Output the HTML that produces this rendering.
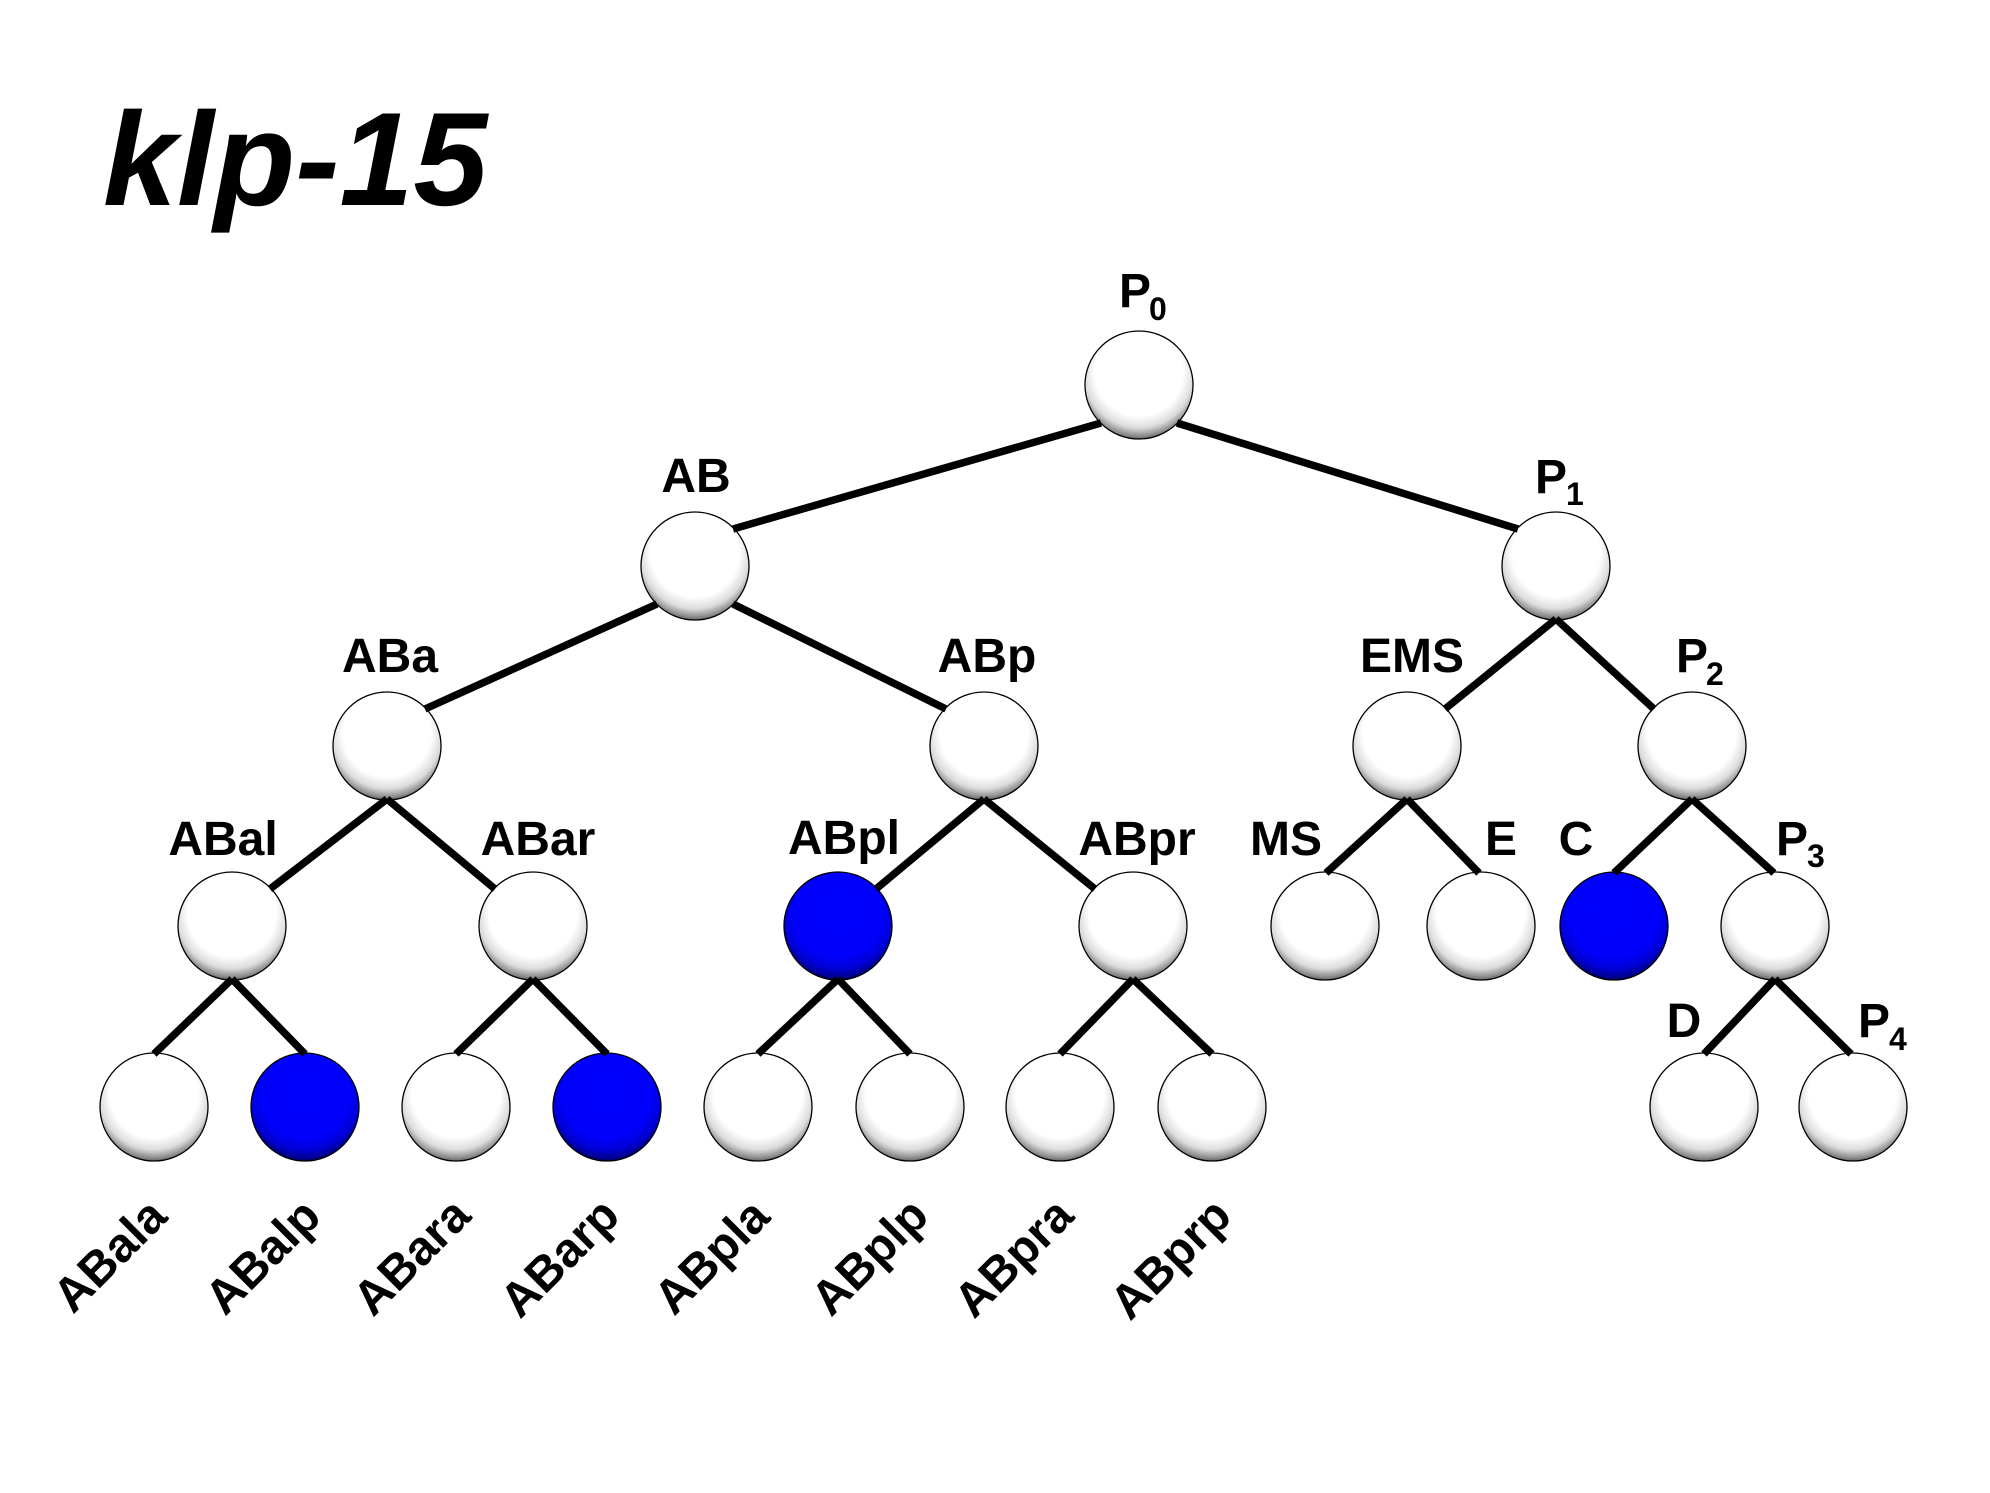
<!DOCTYPE html>
<html>
<head>
<meta charset="utf-8">
<style>
  html, body { margin: 0; padding: 0; background: #ffffff; }
  body { width: 1990px; height: 1493px; overflow: hidden; }
  svg { display: block; }
  text { font-family: "Liberation Sans", Arial, sans-serif; font-weight: bold; fill: #000; }
</style>
</head>
<body>
<svg width="1990" height="1493" viewBox="0 0 1990 1493" xmlns="http://www.w3.org/2000/svg">
  <defs>
    <radialGradient id="gw" cx="50%" cy="40%" r="62%" fx="50%" fy="33%">
      <stop offset="0" stop-color="#ffffff"/>
      <stop offset="0.66" stop-color="#ffffff"/>
      <stop offset="0.82" stop-color="#dcdcdc"/>
      <stop offset="0.93" stop-color="#8c8c8c"/>
      <stop offset="1" stop-color="#4a4a4a"/>
    </radialGradient>
    <radialGradient id="gb" cx="50%" cy="40%" r="62%" fx="50%" fy="33%">
      <stop offset="0" stop-color="#0000ff"/>
      <stop offset="0.66" stop-color="#0000fc"/>
      <stop offset="0.82" stop-color="#0000d8"/>
      <stop offset="0.93" stop-color="#000090"/>
      <stop offset="1" stop-color="#000050"/>
    </radialGradient>
  </defs>

  <rect x="0" y="0" width="1990" height="1493" fill="#ffffff"/>

  <!-- Title -->
  <text x="103" y="205" font-size="133" font-style="italic">klp-15</text>

  <!-- Circles -->
  <g stroke="#000" stroke-width="1.3">
    <circle cx="1139" cy="385" r="54" fill="url(#gw)"/>
    <circle cx="695" cy="566" r="54" fill="url(#gw)"/>
    <circle cx="1556" cy="566" r="54" fill="url(#gw)"/>
    <circle cx="387" cy="746" r="54" fill="url(#gw)"/>
    <circle cx="984" cy="746" r="54" fill="url(#gw)"/>
    <circle cx="1407" cy="746" r="54" fill="url(#gw)"/>
    <circle cx="1692" cy="746" r="54" fill="url(#gw)"/>
    <circle cx="232" cy="926" r="54" fill="url(#gw)"/>
    <circle cx="533" cy="926" r="54" fill="url(#gw)"/>
    <circle cx="838" cy="926" r="54" fill="url(#gb)"/>
    <circle cx="1133" cy="926" r="54" fill="url(#gw)"/>
    <circle cx="1325" cy="926" r="54" fill="url(#gw)"/>
    <circle cx="1481" cy="926" r="54" fill="url(#gw)"/>
    <circle cx="1614" cy="926" r="54" fill="url(#gb)"/>
    <circle cx="1775" cy="926" r="54" fill="url(#gw)"/>
    <circle cx="154" cy="1107" r="54" fill="url(#gw)"/>
    <circle cx="305" cy="1107" r="54" fill="url(#gb)"/>
    <circle cx="456" cy="1107" r="54" fill="url(#gw)"/>
    <circle cx="607" cy="1107" r="54" fill="url(#gb)"/>
    <circle cx="758" cy="1107" r="54" fill="url(#gw)"/>
    <circle cx="910" cy="1107" r="54" fill="url(#gw)"/>
    <circle cx="1060" cy="1107" r="54" fill="url(#gw)"/>
    <circle cx="1212" cy="1107" r="54" fill="url(#gw)"/>
    <circle cx="1704" cy="1107" r="54" fill="url(#gw)"/>
    <circle cx="1853" cy="1107" r="54" fill="url(#gw)"/>
  </g>

  <!-- Connectors -->
  <g stroke="#000" stroke-width="7.5" stroke-linecap="butt" fill="none">
    <line x1="1101" y1="423" x2="733" y2="529"/>
    <line x1="1177" y1="423" x2="1518" y2="529"/>

    <line x1="657" y1="604" x2="425" y2="709"/>
    <line x1="733" y1="604" x2="946" y2="709"/>
    <line x1="1556" y1="619" x2="1445" y2="709"/>
    <line x1="1556" y1="619" x2="1654" y2="709"/>

    <line x1="387" y1="799" x2="270" y2="889"/>
    <line x1="387" y1="799" x2="495" y2="889"/>
    <line x1="984" y1="799" x2="876" y2="889"/>
    <line x1="984" y1="799" x2="1095" y2="889"/>
    <line x1="1407" y1="799" x2="1326" y2="873"/>
    <line x1="1407" y1="799" x2="1479" y2="873"/>
    <line x1="1692" y1="799" x2="1614" y2="873"/>
    <line x1="1692" y1="799" x2="1774" y2="873"/>

    <line x1="232" y1="979" x2="154" y2="1054"/>
    <line x1="232" y1="979" x2="305" y2="1054"/>
    <line x1="533" y1="979" x2="456" y2="1054"/>
    <line x1="533" y1="979" x2="607" y2="1054"/>
    <line x1="838" y1="979" x2="758" y2="1054"/>
    <line x1="838" y1="979" x2="910" y2="1054"/>
    <line x1="1133" y1="979" x2="1060" y2="1054"/>
    <line x1="1133" y1="979" x2="1212" y2="1054"/>
    <line x1="1775" y1="979" x2="1704" y2="1054"/>
    <line x1="1775" y1="979" x2="1851" y2="1054"/>
  </g>

  <!-- Labels -->
  <g font-size="48">
    <text x="1119" y="307">P<tspan x="1149" y="320" font-size="32">0</tspan></text>
    <text x="696" y="492" text-anchor="middle">AB</text>
    <text x="1535" y="493">P<tspan x="1566" y="505" font-size="32">1</tspan></text>

    <text x="390" y="672" text-anchor="middle">ABa</text>
    <text x="987" y="672" text-anchor="middle">ABp</text>
    <text x="1412" y="672" text-anchor="middle">EMS</text>
    <text x="1676" y="672">P<tspan x="1706" y="685" font-size="32">2</tspan></text>

    <text x="223" y="855" text-anchor="middle">ABal</text>
    <text x="538" y="855" text-anchor="middle">ABar</text>
    <text x="844" y="854" text-anchor="middle">ABpl</text>
    <text x="1137" y="855" text-anchor="middle">ABpr</text>
    <text x="1286" y="855" text-anchor="middle">MS</text>
    <text x="1501" y="855" text-anchor="middle">E</text>
    <text x="1576" y="855" text-anchor="middle">C</text>
    <text x="1776" y="855">P<tspan x="1807" y="867" font-size="32">3</tspan></text>

    <text x="1684" y="1037" text-anchor="middle">D</text>
    <text x="1858" y="1037">P<tspan x="1889" y="1050" font-size="32">4</tspan></text>

    <text transform="translate(73,1315) rotate(-45)">ABala</text>
    <text transform="translate(225,1317) rotate(-45)">ABalp</text>
    <text transform="translate(373,1318) rotate(-45)">ABara</text>
    <text transform="translate(520,1320) rotate(-45)">ABarp</text>
    <text transform="translate(674,1317) rotate(-45)">ABpla</text>
    <text transform="translate(831,1318) rotate(-45)">ABplp</text>
    <text transform="translate(974,1320) rotate(-45)">ABpra</text>
    <text transform="translate(1130,1322) rotate(-45)">ABprp</text>
  </g>
</svg>
</body>
</html>
